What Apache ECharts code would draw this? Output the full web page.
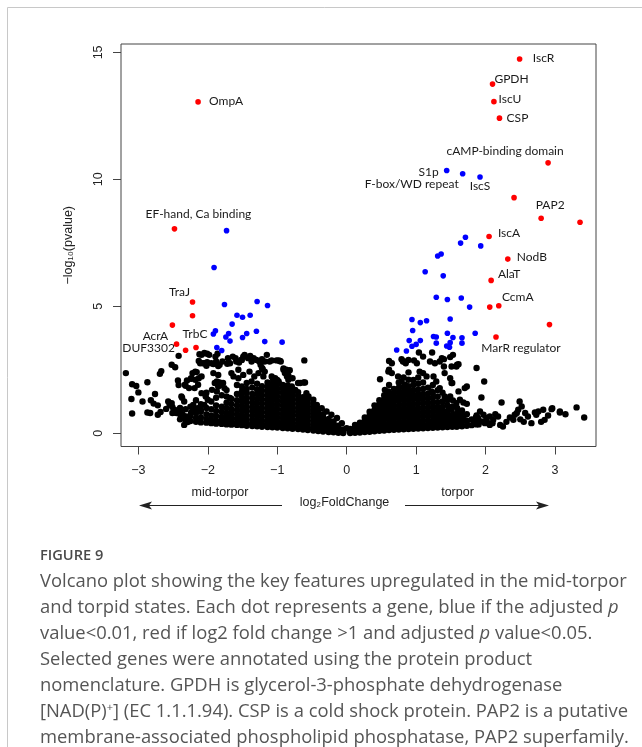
<!DOCTYPE html>
<html>
<head>
<meta charset="utf-8">
<script src="https://cdn.jsdelivr.net/npm/echarts@6/dist/echarts.min.js"></script>
<style>
  html, body { margin: 0; padding: 0; background: #fff; }
  #chart { width: 642px; height: 747px; }
</style>
</head>
<body>
<div id="chart"></div>
<script>
// ---- data (log2FoldChange, -log10 pvalue) ----
const xTicks = [-3, -2, -1, 0, 1, 2, 3];
const yTicks = [0, 5, 10, 15];

// significant, |log2FC| > 1 (red)
const redNames = ["OmpA", "EF-hand, Ca binding", "TraJ", "", "AcrA", "DUF3302", "", "TrbC",
  "IscR", "GPDH", "IscU", "CSP", "cAMP-binding domain", "", "PAP2", "", "IscA", "NodB",
  "AlaT", "", "CcmA", "", "MarR regulator"];
const redX = [-2.14, -2.48, -2.22, -2.22, -2.51, -2.45, -2.32, -2.17,
  2.49, 2.10, 2.12, 2.20, 2.90, 2.41, 2.80, 3.36, 2.05, 2.32, 2.08, 2.06, 2.19, 2.92, 2.15];
const redY = [13.05, 8.05, 5.17, 4.63, 4.26, 3.51, 3.27, 3.38,
  14.74, 13.75, 13.06, 12.41, 10.65, 9.28, 8.47, 8.31, 7.75, 6.86, 6.02, 4.97, 5.02, 4.28, 3.79];

// adjusted p < 0.01 (blue)
const blueNames = ["S1p", "F-box/WD repeat", "IscS"];
const blueX = [1.44, 1.67, 1.92, 1.71, 1.64, 1.93, 1.36, 1.31, 1.13, 1.39, 1.29, 1.45, 1.65, 1.77,
  0.94, 1.06, 1.15, 1.49, 0.95, 1.85, 1.45, 1.25, 1.29, 1.53, 1.66, 0.90, 1.06, 1.00, 0.94,
  1.29, 1.49, 1.44, 1.48, 1.66, 0.72, 0.86,
  -1.73, -1.91, -1.76, -1.29, -1.14, -1.58, -1.50, -1.39, -1.65, -1.30, -1.89, -1.92, -1.70,
  -1.74, -1.68, -1.44, -1.50, -1.18, -0.93, -1.87, -1.80];
const blueY = [10.35, 10.22, 10.09, 7.72, 7.49, 7.38, 7.06, 6.98, 6.36, 6.20, 5.36, 5.27, 5.33, 4.97,
  4.48, 4.36, 4.43, 4.50, 4.05, 3.94, 3.94, 3.81, 3.79, 3.77, 3.76, 3.65, 3.65, 3.50, 3.43,
  3.55, 3.57, 3.44, 3.39, 3.55, 3.28, 3.24,
  7.98, 6.53, 5.07, 5.19, 5.03, 4.65, 4.57, 4.65, 4.30, 4.02, 4.04, 3.91, 3.93,
  3.79, 3.63, 3.93, 3.77, 3.61, 3.59, 3.38, 3.26];

// not significant (black): scattered points
const blackSparse = [
  [-3.18,2.37],[-3.09,1.93],[-3.03,1.86],[-3.00,1.61],[-2.87,2.01],[-3.10,1.35],[-2.94,1.25],[-3.09,0.78],
  [-2.87,0.82],[-2.83,0.80],[-2.76,1.55],[-2.69,2.34],[-2.67,2.45],[-2.82,1.30],[-2.78,1.17],[-2.72,1.10],
  [-2.68,0.84],[-2.72,0.73],[-2.60,0.96],[-2.55,1.12],[-2.57,1.25],[-2.52,1.19],[-2.51,1.04],[-2.48,0.93],
  [-2.45,0.80],[-2.51,0.80],[-2.52,2.70],[-2.47,2.60],[-2.42,3.05],[-2.43,2.08],[-2.42,1.90],[-2.39,0.82],
  [-2.47,0.82],[-2.32,1.87],[-2.30,2.08],[-2.24,2.15],[-2.37,1.40],[-2.34,1.25],[-2.34,0.33],[-2.29,0.44],
  [-2.24,0.82],[-2.21,0.93],[-2.22,2.37],[-2.18,2.43],[-2.16,2.41],[-2.12,3.11],[-2.09,3.09],[-2.05,3.16],
  [-2.01,3.13],[-1.98,3.09],[-2.13,2.85],[-2.11,2.76],[-2.13,2.17],[-2.09,2.24],[-2.05,2.76],[-2.01,2.80],
  [-1.89,3.02],[-1.86,3.13],[-1.85,2.65],[-1.92,2.73],[-1.88,2.83],[-1.83,2.70],[-1.79,2.83],[-1.72,2.74],
  [-1.68,2.76],[-1.60,2.96],[-1.55,2.79],[-1.51,2.89],[-1.49,3.02],[-1.39,3.05],[-1.34,2.96],[-1.30,2.89],
  [-1.26,2.83],[-1.24,2.70],[-1.21,2.53],[-1.11,2.83],[-1.08,2.87],[-0.98,2.87],[-0.95,2.83],[-0.91,2.55],
  [-0.87,2.50],[-0.82,2.48],[-0.84,2.28],[-0.78,2.17],[-0.61,2.87],[-0.60,2.00],[-0.67,1.98],[-1.51,1.84],
  [-1.44,1.98],[-1.37,2.04],[-1.87,2.04],[-1.83,2.00],[-1.78,1.98],[-1.94,1.71],[-1.87,1.65],[-1.73,1.45],
  [-1.68,1.39],[-1.63,2.24],[-1.56,2.17],[-1.27,2.37],[-1.20,2.24],[-1.06,2.11],[-0.98,1.98],[-1.10,1.84],
  [-1.03,1.71],[-2.33,1.91],[-2.27,1.78],[-2.38,1.45],[-2.40,0.86],[-2.36,0.73],[-2.31,0.66],[-2.26,0.64],
  [-2.19,1.78],[-2.14,1.91],[-2.24,2.17],[-2.18,2.11],[-2.07,2.76],[-2.02,2.66],[-1.95,2.76],[-1.92,2.37],
  [-1.85,2.30],[-2.09,1.58],[-2.03,1.45],[-2.00,1.32],[-2.05,1.12],[-2.21,1.12],[-2.15,0.99],[-2.10,0.93],
  [-1.90,1.98],[-1.85,1.84],[-1.80,1.91],[-1.76,1.78],[-1.71,2.96],[-1.64,3.02],[-1.59,2.83],[-1.52,2.89],
  [-1.47,3.09],[-1.42,2.96],[-1.37,2.83],[-1.66,2.37],[-1.56,2.50],[-1.49,2.30],[-1.40,2.43],[-1.33,2.24],
  [-1.15,3.09],[-1.22,2.92],[-1.18,2.83],[-1.01,2.87],[-0.96,2.85],[-1.22,2.57],[-1.18,2.43],[-0.91,2.50],
  [-0.89,2.37],[-0.86,2.24],[-0.84,2.11],[-0.70,1.98],[-0.62,2.00],[-1.08,2.24],[-1.03,2.17],[-0.98,2.04],
  [-0.79,1.84],[-0.74,1.71],[-0.58,1.58],[-0.55,1.45],[-0.48,1.32],[-0.43,1.12],[-0.36,0.99],[-0.29,0.86],
  [-0.22,0.73],[-0.14,0.60],[-0.07,0.40],[0.00,0.20],
  [0.48,2.13],[0.61,2.85],[0.65,2.76],[0.79,2.92],[0.83,2.83],[0.85,2.76],[0.97,2.87],[1.01,2.76],
  [1.04,3.18],[1.23,3.18],[1.20,2.83],[1.27,2.76],[1.37,2.96],[1.40,2.92],[1.40,2.63],[0.61,2.50],
  [0.65,2.37],[0.74,2.24],[0.79,2.04],[0.84,1.91],[0.89,2.11],[1.05,2.43],[1.10,2.37],[1.15,2.24],
  [1.25,2.24],[1.29,2.04],[1.41,2.37],[1.49,2.17],[1.52,1.98],[0.55,1.71],[0.60,1.65],[0.65,1.52],
  [0.94,1.58],[1.01,1.45],[1.08,1.39],[1.22,1.65],[1.34,1.78],[1.41,1.45],[1.53,3.09],[1.61,2.72],
  [1.87,2.57],[1.51,2.63],[1.98,2.04],[1.51,1.98],[1.70,1.78],[1.61,1.65],[1.94,1.41],[1.49,1.45],
  [1.53,1.29],[1.58,1.19],[1.63,1.32],[1.68,1.21],[1.73,1.16],[2.23,1.21],[2.49,1.25],[2.52,1.06],
  [2.47,0.93],[1.51,0.93],[1.56,0.73],[1.61,0.60],[1.53,0.47],[1.68,0.60],[1.73,0.47],[1.92,0.86],
  [1.97,0.73],[2.01,0.60],[2.06,0.66],[2.11,0.53],[1.99,0.40],[2.06,0.33],[1.89,0.60],[1.94,0.47],
  [2.18,0.66],[2.21,0.33],[2.25,0.27],[2.40,0.53],[2.42,0.73],[2.45,0.80],[2.57,0.80],[2.61,0.66],
  [2.66,0.40],[2.73,0.73],[2.76,0.86],[2.83,0.93],[2.85,0.53],[2.96,0.99],[3.07,0.86],[3.31,1.02],
  [3.42,0.62],[1.51,0.33],[1.58,0.27],[1.49,3.00],[1.59,2.70],[1.34,2.83],[2.71,0.82],[2.95,0.95],
  [3.07,0.82],[0.60,2.43],[0.81,2.83],[0.89,2.89],[1.10,3.02],[1.58,2.63],[1.73,1.84],
  [1.84,0.42],[1.86,0.62],[1.90,0.35],[2.02,0.45],[2.10,0.40],[2.14,0.75],[2.30,0.45],[2.35,0.62],
  [2.50,0.55],[2.55,0.45],[2.80,0.45],[2.90,0.70],[3.15,0.75]
];

// not significant (black): the dense core, read column by column
const blackCore = [
  [-2.40, [0.55, 0.75, 1.00]],
  [-2.32, [0.50, 0.62, 0.95]],
  [-2.25, [0.48, 0.70, 1.05]],
  [-2.17, [0.45, 0.60, 0.80, 1.30]],
  [-2.10, [0.43, 0.62, 0.85, 1.15]],
  [-2.02, [0.42, 0.55, 0.75, 1.00, 1.60]],
  [-1.95, [0.40, 0.52, 0.70, 0.95, 1.25]],
  [-1.88, [0.38, 0.50, 0.68, 0.88, 1.10, 1.40]],
  [-1.80, [0.37, 0.50, 0.65, 0.85, 1.05, 1.50]],
  [-1.73, [0.35, 0.48, 0.62, 0.80, 1.00, 1.20, 1.70]],
  [-1.66, [0.34, 0.46, 0.60, 0.78, 0.95, 1.15, 1.35]],
  [-1.58, [0.33, 0.44, 0.58, 0.75, 0.92, 1.10, 1.30, 1.55, 1.90]],
  [-1.51, [0.32, 0.42, 0.56, 0.72, 0.90, 1.08, 1.25, 1.45, 1.65]],
  [-1.44, [0.30, 0.40, 0.55, 0.70, 0.88, 1.05, 1.22, 1.40, 1.60, 1.75]],
  [-1.36, [0.29, 0.40, 0.53, 0.70, 0.87, 1.03, 1.20, 1.38, 1.55, 1.80]],
  [-1.29, [0.28, 0.38, 0.52, 0.68, 0.85, 1.00, 1.18, 1.35, 1.55, 1.72, 1.95]],
  [-1.22, [0.26, 0.37, 0.50, 0.66, 0.83, 1.00, 1.17, 1.33, 1.50, 1.68, 1.85]],
  [-1.14, [0.25, 0.36, 0.50, 0.65, 0.82, 0.98, 1.15, 1.32, 1.50, 1.66, 1.82, 2.00]],
  [-1.07, [0.24, 0.35, 0.48, 0.64, 0.80, 0.96, 1.13, 1.30, 1.47, 1.64, 1.80, 1.95]],
  [-1.00, [0.23, 0.33, 0.47, 0.62, 0.78, 0.95, 1.12, 1.28, 1.45, 1.62, 1.78, 1.95, 2.10]],
  [-0.92, [0.21, 0.32, 0.45, 0.60, 0.76, 0.93, 1.10, 1.26, 1.42, 1.60, 1.75, 1.90]],
  [-0.85, [0.20, 0.30, 0.44, 0.58, 0.74, 0.90, 1.06, 1.22, 1.40, 1.56, 1.72, 1.88]],
  [-0.78, [0.18, 0.28, 0.42, 0.56, 0.72, 0.88, 1.04, 1.20, 1.36, 1.52, 1.68]],
  [-0.70, [0.17, 0.27, 0.40, 0.54, 0.70, 0.85, 1.00, 1.16, 1.32, 1.48, 1.62]],
  [-0.63, [0.15, 0.25, 0.38, 0.52, 0.67, 0.82, 0.97, 1.12, 1.28, 1.42]],
  [-0.56, [0.13, 0.23, 0.36, 0.50, 0.64, 0.78, 0.92, 1.06, 1.20, 1.34]],
  [-0.48, [0.11, 0.21, 0.33, 0.46, 0.60, 0.73, 0.86, 1.00, 1.15]],
  [-0.41, [0.09, 0.19, 0.30, 0.42, 0.55, 0.68, 0.80, 0.95]],
  [-0.34, [0.07, 0.16, 0.27, 0.38, 0.50, 0.62, 0.75]],
  [-0.26, [0.05, 0.13, 0.23, 0.33, 0.44, 0.56]],
  [-0.19, [0.04, 0.10, 0.18, 0.27, 0.37, 0.47]],
  [-0.12, [0.02, 0.07, 0.13, 0.20, 0.30]],
  [-0.05, [0.01, 0.04, 0.09, 0.15]],
  [0.05, [0.01, 0.05, 0.10, 0.17]],
  [0.12, [0.02, 0.07, 0.14, 0.23, 0.33]],
  [0.19, [0.03, 0.10, 0.19, 0.30, 0.42]],
  [0.26, [0.05, 0.13, 0.24, 0.36, 0.50, 0.62]],
  [0.33, [0.06, 0.16, 0.28, 0.42, 0.56, 0.70, 0.85]],
  [0.40, [0.08, 0.18, 0.32, 0.47, 0.62, 0.78, 0.92, 1.10]],
  [0.47, [0.10, 0.21, 0.35, 0.50, 0.66, 0.82, 0.98, 1.15, 1.30]],
  [0.54, [0.11, 0.23, 0.38, 0.54, 0.70, 0.86, 1.02, 1.18, 1.35, 1.50]],
  [0.61, [0.13, 0.25, 0.40, 0.56, 0.72, 0.88, 1.05, 1.22, 1.38, 1.55, 1.90]],
  [0.68, [0.14, 0.27, 0.42, 0.58, 0.75, 0.92, 1.08, 1.25, 1.42, 1.60, 1.75]],
  [0.75, [0.15, 0.28, 0.44, 0.60, 0.77, 0.94, 1.10, 1.28, 1.45, 1.62, 1.80, 2.00]],
  [0.82, [0.16, 0.29, 0.45, 0.62, 0.79, 0.96, 1.13, 1.30, 1.48, 1.65, 1.82, 2.20]],
  [0.89, [0.17, 0.30, 0.46, 0.63, 0.80, 0.97, 1.14, 1.32, 1.50, 1.68, 1.85, 2.40]],
  [0.96, [0.18, 0.31, 0.47, 0.64, 0.81, 0.98, 1.16, 1.34, 1.52, 1.70, 1.90, 2.10]],
  [1.03, [0.19, 0.32, 0.48, 0.65, 0.82, 1.00, 1.18, 1.36, 1.54, 1.72, 1.95, 2.20]],
  [1.10, [0.20, 0.33, 0.49, 0.66, 0.83, 1.01, 1.19, 1.37, 1.55, 1.75, 2.00]],
  [1.17, [0.21, 0.34, 0.50, 0.67, 0.84, 1.02, 1.20, 1.38, 1.56, 1.80]],
  [1.24, [0.22, 0.35, 0.50, 0.67, 0.85, 1.03, 1.20, 1.40, 1.60, 1.90]],
  [1.31, [0.23, 0.36, 0.52, 0.68, 0.86, 1.03, 1.22, 1.45, 1.70]],
  [1.38, [0.24, 0.37, 0.53, 0.70, 0.87, 1.05, 1.25, 1.60]],
  [1.45, [0.25, 0.38, 0.54, 0.70, 0.88, 1.10, 1.30]],
  [1.52, [0.26, 0.40, 0.56, 0.72, 1.05]],
  [1.59, [0.27, 0.42, 0.58, 0.80, 1.00]],
  [1.66, [0.28, 0.45, 0.70, 0.90]],
  [1.73, [0.30, 0.50, 0.75]],
  [1.80, [0.32, 0.55]],
  [1.87, [0.35, 0.50, 0.70]]
];

const captionTitle = "FIGURE 9";
const captionLines = [
  "Volcano plot showing the key features upregulated in the mid-torpor",
  "and torpid states. Each dot represents a gene, blue if the adjusted {i|p}",
  "value<0.01, red if log2 fold change >1 and adjusted {i|p} value<0.05.",
  "Selected genes were annotated using the protein product",
  "nomenclature. GPDH is glycerol-3-phosphate dehydrogenase",
  "[NAD(P){sup|+}] (EC 1.1.1.94). CSP is a cold shock protein. PAP2 is a putative",
  "membrane-associated phospholipid phosphatase, PAP2 superfamily."
];

// ---- label placement (offset of text centre from the dot, px) ----
const labelOffset = {
  "OmpA": [28, -1],
  "EF-hand, Ca binding": [24, -15],
  "TraJ": [-13, -10],
  "AcrA": [-17, 11],
  "DUF3302": [-28, 4],
  "TrbC": [-1, -13],
  "IscR": [24, -1],
  "GPDH": [19, -5],
  "IscU": [16, -3],
  "CSP": [18, 0],
  "cAMP-binding domain": [-43, -12],
  "PAP2": [9, -13],
  "IscA": [20, -3],
  "NodB": [24, -2],
  "AlaT": [18, -6],
  "CcmA": [19, -9],
  "MarR regulator": [25, 11],
  "S1p": [-18, 2],
  "F-box/WD repeat": [-51, 10],
  "IscS": [0, 9]
};

const axisFont = "'Liberation Sans', Arial, sans-serif";
const geneFont = "Lato, 'Open Sans', sans-serif";
const captionFont = "'Open Sans', 'Noto Sans', sans-serif";

function pointItem(x, y, name) {
  const item = { value: [x, y] };
  if (name) {
    item.name = name;
    item.label = {
      show: true,
      position: "inside",
      offset: labelOffset[name],
      formatter: name,
      color: "#1a1a1a",
      fontFamily: geneFont,
      fontSize: 12,
      textBorderWidth: 0
    };
  }
  return item;
}

const blackData = blackSparse.concat(...blackCore.map(([x, ys]) => ys.map((y) => [x, y])));
const blueData = blueX.map((x, i) => pointItem(x, blueY[i], blueNames[i]));
const redData = redX.map((x, i) => pointItem(x, redY[i], redNames[i]));

const chart = echarts.init(document.getElementById("chart"), null, { renderer: "canvas" });

const minusSign = (v) => String(v).replace("-", "\u2212");

const centred = { align: "center", verticalAlign: "middle", textAlign: "center", textVerticalAlign: "middle" };
const leftMid = { align: "left", verticalAlign: "middle", textAlign: "left", textVerticalAlign: "middle" };

const graphics = [
  // card frame
  { type: "line", shape: { x1: 7.5, y1: 7.5, x2: 642, y2: 7.5 }, style: { stroke: "#c8c8c8", lineWidth: 1 } },
  { type: "line", shape: { x1: 7.5, y1: 7.5, x2: 7.5, y2: 747 }, style: { stroke: "#c8c8c8", lineWidth: 1 } },
  // x axis title and direction arrows
  { type: "text", x: 344.5, y: 503,
    style: Object.assign({ text: "log\u2082FoldChange", font: "12.5px " + axisFont, fill: "#222" }, centred) },
  { type: "text", x: 220, y: 493,
    style: Object.assign({ text: "mid-torpor", font: "12.5px " + axisFont, fill: "#222" }, centred) },
  { type: "text", x: 457.5, y: 493,
    style: Object.assign({ text: "torpor", font: "12.5px " + axisFont, fill: "#222" }, centred) },
  { type: "line", shape: { x1: 282, y1: 505.5, x2: 146, y2: 505.5 }, style: { stroke: "#222", lineWidth: 1.2 } },
  { type: "polygon", shape: { points: [[139, 505.5], [152, 501.5], [149, 505.5], [152, 509.5]] }, style: { fill: "#222" } },
  { type: "line", shape: { x1: 405, y1: 505.5, x2: 542, y2: 505.5 }, style: { stroke: "#222", lineWidth: 1.2 } },
  { type: "polygon", shape: { points: [[549, 505.5], [536, 501.5], [539, 505.5], [536, 509.5]] }, style: { fill: "#222" } },
  // caption
  { type: "text", x: 40, y: 556,
    style: Object.assign({ text: captionTitle, font: "600 14.6px " + captionFont, fill: "#4a4a4a" }, leftMid) }
];

captionLines.forEach((line, i) => {
  graphics.push({
    type: "text", x: 40, y: 581.5 + i * 26,
    style: Object.assign({
      text: line,
      font: "18.4px " + captionFont,
      fill: "#555",
      rich: {
        i: { fontFamily: captionFont, fontSize: 18.4, fontStyle: "italic", fill: "#555", color: "#555" },
        sup: { fontFamily: captionFont, fontSize: 11, fill: "#555", color: "#555", verticalAlign: "top", padding: [0, 0, 7, 0] }
      }
    }, leftMid)
  });
});

chart.setOption({
  animation: false,
  backgroundColor: "#fff",
  grid: {
    left: 121, right: 46, top: 44, bottom: 300.5,
    show: true, borderColor: "#444", borderWidth: 1, backgroundColor: "transparent"
  },
  xAxis: {
    type: "value", min: -3.25, max: 3.59,
    axisLine: { show: false, onZero: false },
    splitLine: { show: false },
    axisTick: { show: true, length: 8, lineStyle: { color: "#444" }, customValues: xTicks },
    axisLabel: {
      customValues: xTicks, margin: 18, color: "#222",
      fontFamily: axisFont, fontSize: 12.5, formatter: minusSign
    }
  },
  yAxis: {
    type: "value", min: -0.52, max: 15.33,
    name: "\u2212log\u2081\u2080(pvalue)",
    nameLocation: "middle", nameRotate: 90, nameGap: 46,
    nameTextStyle: { color: "#222", fontFamily: axisFont, fontSize: 12.5 },
    axisLine: { show: false, onZero: false },
    splitLine: { show: false },
    axisTick: { show: true, length: 8, lineStyle: { color: "#444" }, customValues: yTicks },
    axisLabel: {
      customValues: yTicks, rotate: 90, margin: 16, color: "#222",
      fontFamily: axisFont, fontSize: 12.5
    }
  },
  series: [
    {
      name: "not significant", type: "scatter", data: blackData,
      symbolSize: 6.4, itemStyle: { color: "#000", opacity: 1 }, silent: true, z: 2
    },
    {
      name: "padj < 0.01", type: "scatter", data: blueData,
      symbolSize: 5.6, itemStyle: { color: "#0000ff", opacity: 1 }, silent: true, z: 3
    },
    {
      name: "log2FC > 1", type: "scatter", data: redData,
      symbolSize: 5.6, itemStyle: { color: "#ff0000", opacity: 1 }, silent: true, z: 4
    }
  ],
  graphic: graphics
});
</script>
</body>
</html>
